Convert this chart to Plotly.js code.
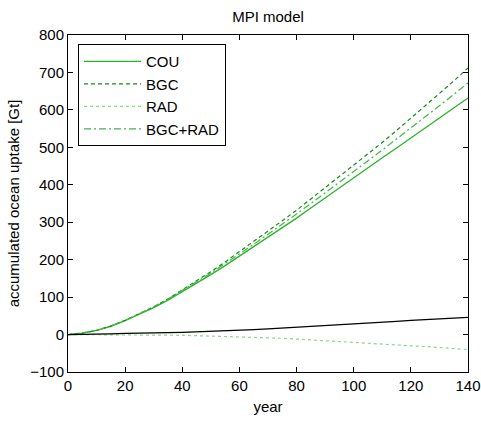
<!DOCTYPE html>
<html>
<head>
<meta charset="utf-8">
<script src="https://cdn.plot.ly/plotly-3.0.1.min.js"></script>
<style>html,body{margin:0;padding:0;background:#fff;}#chart{width:481px;height:425px;}</style>
</head>
<body>
<div id="chart"></div>
<script>
const years  = [0,5,10,15,20,25,30,35,40,45,50,55,60,65,70,75,80,85,90,95,100,105,110,115,120,125,130,135,140];
const cou    = [0,4,11,22,37,54,72,92,114,137,160,184,209,234,260,285,311,338,365,392,420,446,472,498,525,551,578,605,632];
const bgc    = [0,4,11,23,38,56,74,95,119,143,168,194,221,248,276,304,332,362,392,421,451,482,513,545,578,610,643,677,712];
const bgcRad = [0,4,11,23,38,56,74,95,117,141,164,189,215,241,268,294,322,350,378,407,436,464,493,522,552,581,611,641,672];
const rad    = [0,0,0,0,-1,-1,-1,-2,-2,-3,-4,-5,-6,-7,-9,-10,-12,-14,-16,-18,-20,-22,-25,-27,-30,-32,-35,-37,-40];
const other  = [0,0,1,2,3,3,4,5,6,7,8,9,11,13,15,17,19,21,23,25,28,30,33,35,38,40,42,44,46];

const font = {family: 'Liberation Sans, Arial, sans-serif', size: 15, color: '#000'};

const traces = [
  {x: years, y: cou, mode: 'lines', name: 'COU', line: {color: 'rgb(40,180,40)', width: 1.3}},
  {x: years, y: bgc, mode: 'lines', name: 'BGC', line: {color: 'rgb(20,140,20)', width: 1.2, dash: '4px,3px'}},
  {x: years, y: rad, mode: 'lines', name: 'RAD', line: {color: 'rgb(140,215,140)', width: 1.2, dash: 'dot'}},
  {x: years, y: bgcRad, mode: 'lines', name: 'BGC+RAD', line: {color: 'rgb(70,180,70)', width: 1.2, dash: '7px,3px,2px,3px'}},
  {x: years, y: other, mode: 'lines', name: 'other', line: {color: '#000', width: 1.2}, showlegend: false, hoverinfo: 'skip'}
];

const layout = {
  width: 481, height: 425,
  margin: {l: 68, r: 13, t: 35, b: 53},
  paper_bgcolor: '#fff', plot_bgcolor: '#fff',
  font: font,
  title: {text: 'MPI model', x: 0.5, xref: 'paper', y: 0.96, yanchor: 'middle', font: {family: font.family, size: 15, color: '#000'}},
  xaxis: {
    range: [0, 140], dtick: 20, tick0: 0,
    showgrid: false, zeroline: false,
    showline: true, linecolor: '#000', linewidth: 1, mirror: 'ticks',
    ticks: 'inside', ticklen: 5, tickcolor: '#000',
    title: {text: 'year', font: font, standoff: 8}
  },
  yaxis: {
    range: [-100, 800], dtick: 100, tick0: 0,
    showgrid: false, zeroline: false,
    showline: true, linecolor: '#000', linewidth: 1, mirror: 'ticks',
    ticks: 'inside', ticklen: 5, tickcolor: '#000',
    title: {text: 'accumulated ocean uptake [Gt]', font: font, standoff: 6}
  },
  legend: {
    x: 0.025, y: 0.973, xanchor: 'left', yanchor: 'top',
    bgcolor: '#fff', bordercolor: '#000', borderwidth: 1,
    font: font, tracegroupgap: 0, itemwidth: 57
  },
  showlegend: true
};

Plotly.newPlot('chart', traces, layout, {displayModeBar: false, staticPlot: true});
</script>
</body>
</html>
